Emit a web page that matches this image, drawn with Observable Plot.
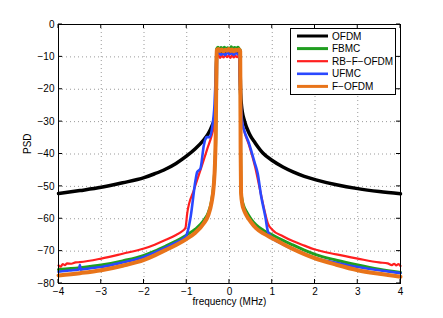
<!DOCTYPE html>
<html><head><meta charset="utf-8">
<script src="https://cdn.jsdelivr.net/npm/d3@7"></script>
<script src="https://cdn.jsdelivr.net/npm/@observablehq/plot@0.6"></script>
<style>body{margin:0;background:#fff}svg{display:block}</style>
</head><body><div id="chart"></div>
<script>
// ---- data ----
const seriesNames = ["OFDM", "FBMC", "RB\u2212F\u2212OFDM", "UFMC", "F\u2212OFDM"];
const xTicks = [-4, -3, -2, -1, 0, 1, 2, 3, 4];
const yTicks = [0, -10, -20, -30, -40, -50, -60, -70, -80];

const ofdmF   = [-4,-3.5,-3,-2.5,-2,-1.75,-1.5,-1.25,-1,-0.8,-0.6,-0.5,-0.4,-0.35,-0.32,-0.31,-0.3,-0.25,-0.15,0,0.1,0.2,0.24,0.25,0.26,0.28,0.3,0.35,0.47,0.6,0.78,1,1.25,1.5,1.75,2,2.5,3,3.5,4];
const ofdmPSD = [-52.2,-51.3,-50.3,-48.9,-47.3,-46.1,-44.7,-42.9,-40.6,-38.4,-35.6,-33.8,-31,-29,-26,-20,-8.5,-8.2,-8.4,-8.3,-8.5,-8.3,-8.5,-15,-21,-25,-27,-29.8,-33.9,-36.6,-39.7,-42,-44,-45.6,-46.9,-47.9,-49.5,-50.7,-51.6,-52.3];

const fbmcF   = [-4,-3.5,-3,-2.5,-2,-1.75,-1.5,-1.25,-1,-0.8,-0.6,-0.5,-0.42,-0.37,-0.34,-0.32,-0.31,-0.3,-0.27,-0.24,-0.2,-0.16,-0.12,-0.08,-0.04,0,0.04,0.08,0.12,0.16,0.2,0.23,0.25,0.255,0.26,0.27,0.3,0.33,0.39,0.5,0.62,0.8,1,1.25,1.48,1.75,2,2.5,3,3.5,4];
const fbmcPSD = [-75.7,-75.1,-74.3,-73.0,-71.3,-70.0,-68.5,-66.9,-65.0,-63.2,-60.5,-58.2,-54.5,-49.5,-43,-33,-20,-7.5,-7.0,-7.8,-7.1,-7.6,-7.0,-7.7,-7.2,-7.8,-6.9,-7.6,-7.1,-7.5,-7.0,-7.6,-7.9,-20,-38,-51.5,-54.5,-56,-57.7,-60,-61.9,-63.6,-65,-66.7,-68.1,-69.7,-71,-72.8,-74.3,-75.6,-76.6];

const rbfF   = [-4,-3.95,-3.9,-3.85,-3.8,-3.7,-3.6,-3.5,-3,-2.5,-2,-1.75,-1.5,-1.25,-1.1,-1.03,-0.99,-0.835,-0.68,-0.52,-0.405,-0.35,-0.33,-0.31,-0.295,-0.26,-0.22,-0.18,-0.14,-0.1,-0.06,-0.02,0.02,0.06,0.1,0.14,0.18,0.21,0.23,0.245,0.27,0.3,0.35,0.45,0.6,0.72,0.82,0.9,1,1.25,1.48,1.75,2,2.5,3,3.5,3.7,3.8,3.85,3.9,3.95,4];
const rbfPSD = [-74.4,-74.8,-74.0,-74.3,-73.8,-73.9,-73.5,-73.4,-72.3,-70.8,-69.2,-68.0,-66.6,-65.0,-63.8,-62.8,-58.4,-51.2,-45,-38.4,-33.7,-30,-25.5,-15,-10,-9.5,-10.3,-9.6,-10.2,-9.4,-10.1,-9.6,-10.3,-9.5,-10.2,-9.7,-10.1,-9.6,-10,-18,-27,-30.5,-33.2,-37,-44,-51.5,-57.5,-61.5,-63.4,-65.4,-66.9,-68.3,-69.5,-71,-72.3,-73.5,-73.8,-74.3,-73.9,-74.4,-74.0,-74.6];

const ufmcF   = [-4,-3.75,-3.52,-3.5,-3.48,-3.25,-3,-2.5,-2,-1.75,-1.5,-1.25,-1.03,-0.97,-0.91,-0.795,-0.756,-0.68,-0.6,-0.54,-0.46,-0.405,-0.35,-0.32,-0.3,-0.25,-0.2,-0.15,-0.1,-0.05,0,0.05,0.1,0.15,0.2,0.23,0.25,0.28,0.31,0.35,0.45,0.585,0.66,0.74,0.84,0.9,1,1.25,1.48,1.75,2,2.5,3,3.5,4];
const ufmcPSD = [-76.4,-76.0,-75.7,-74.3,-75.7,-75.3,-74.9,-73.5,-71.8,-70.4,-68.9,-67.3,-65.6,-63.5,-59.5,-48.1,-45.6,-44.5,-37.3,-34.8,-34.8,-31.7,-24.5,-15,-9.2,-8.8,-9.3,-8.9,-9.4,-8.7,-9.2,-8.9,-9.3,-8.8,-9.2,-9.0,-20,-28,-31,-33,-36.5,-42.5,-46,-53,-59.5,-64,-65.8,-67.9,-69.4,-70.8,-72.1,-73.6,-74.9,-75.9,-76.8];

const fofdmF   = [-4,-3.5,-3,-2.5,-2,-1.75,-1.5,-1.25,-1,-0.8,-0.6,-0.5,-0.42,-0.37,-0.34,-0.32,-0.31,-0.3,-0.26,-0.22,-0.18,-0.14,-0.1,-0.06,-0.02,0.02,0.06,0.1,0.14,0.18,0.22,0.25,0.255,0.26,0.27,0.3,0.33,0.39,0.5,0.62,0.8,1,1.25,1.48,1.75,2,2.5,3,3.5,4];
const fofdmPSD = [-77.5,-76.8,-75.9,-74.5,-72.7,-71.3,-69.7,-68.1,-66.2,-64.3,-61.4,-59,-55,-50,-43,-32,-18,-8,-7.6,-8.2,-7.7,-8.3,-7.8,-8.1,-7.6,-8.2,-7.7,-8.3,-7.8,-8.0,-7.7,-8.3,-20,-38,-52,-55.5,-57,-58.8,-61,-62.9,-64.6,-66,-67.8,-69.3,-70.9,-72.2,-74.2,-75.9,-77,-77.9];

// ---- styles ----
const seriesColors = ["#000000", "#1f9e1f", "#ff1f1f", "#2a48ff", "#e8741a"];
const seriesWidths = [3.5, 3, 2.2, 2.6, 4];

const seriesF = [ofdmF, fbmcF, rbfF, ufmcF, fofdmF];
const seriesP = [ofdmPSD, fbmcPSD, rbfPSD, ufmcPSD, fofdmPSD];
const rows = seriesNames.map((name, k) => seriesF[k].map((f, i) => ({f, p: seriesP[k][i], name})));

const W = 443, H = 318;
const plot = Plot.plot({
  width: W, height: H,
  marginLeft: 58, marginRight: 43, marginTop: 24, marginBottom: 35,
  x: {domain: [-4, 4]},
  y: {domain: [-80, 0]},
  style: {fontFamily: "'Liberation Sans', Arial, sans-serif", fontSize: "10px", background: "#fff", color: "#000"},
  marks: [
    Plot.gridX(xTicks, {stroke: "#9a9a9a", strokeOpacity: 1, strokeDasharray: "1,3"}),
    Plot.gridY(yTicks, {stroke: "#9a9a9a", strokeOpacity: 1, strokeDasharray: "1,3"}),
    ...rows.map((r, k) => Plot.line(r, {x: "f", y: "p", stroke: seriesColors[k], strokeWidth: seriesWidths[k], curve: "monotone-x", strokeLinejoin: "round"})),
    Plot.frame({stroke: "#000", strokeWidth: 1}),
    Plot.axisX(xTicks, {anchor: "bottom", tickSize: 0, tickPadding: 4, label: null}),
    Plot.axisY(yTicks, {anchor: "left", tickSize: 0, tickPadding: 4, label: null}),
    Plot.text(["frequency (MHz)"], {frameAnchor: "bottom", dy: 21, text: d => d}),
    Plot.text(["PSD"], {frameAnchor: "left", dx: -31, rotate: -90, text: d => d})
  ]
});
document.getElementById("chart").appendChild(plot);

// inward ticks on all four sides, positioned through Plot's scales
const sx = plot.scale("x"), sy = plot.scale("y");
const svg = d3.select(plot);
const x0 = sx.apply(-4), x1 = sx.apply(4), y0 = sy.apply(-80), y1 = sy.apply(0);
const tl = 4;
const tg = svg.append("g").attr("stroke", "#000").attr("stroke-width", 1);
xTicks.forEach(v => {
  const x = sx.apply(v);
  tg.append("line").attr("x1", x).attr("x2", x).attr("y1", y0).attr("y2", y0 - tl);
  tg.append("line").attr("x1", x).attr("x2", x).attr("y1", y1).attr("y2", y1 + tl);
});
yTicks.forEach(v => {
  const y = sy.apply(v);
  tg.append("line").attr("x1", x0).attr("x2", x0 + tl).attr("y1", y).attr("y2", y);
  tg.append("line").attr("x1", x1).attr("x2", x1 - tl).attr("y1", y).attr("y2", y);
});

// legend (inside the axes, top right)
const lg = svg.append("g").attr("font-family", "'Liberation Sans', Arial, sans-serif").attr("font-size", 10).attr("text-anchor", "start");
const bx = 290.5, by = 28.5, bw = 105, bh = 66;
lg.append("rect").attr("x", bx).attr("y", by).attr("width", bw).attr("height", bh).attr("fill", "#fff").attr("stroke", "#000").attr("stroke-width", 1);
seriesNames.forEach((name, k) => {
  const y = by + 7.5 + k * 12.6;
  lg.append("line").attr("x1", bx + 6.5).attr("x2", bx + 37.5).attr("y1", y).attr("y2", y)
    .attr("stroke", seriesColors[k]).attr("stroke-width", Math.min(seriesWidths[k], 3));
  lg.append("text").attr("x", bx + 41.5).attr("y", y).attr("dy", "0.35em").attr("text-anchor", "start").attr("fill", "#000").text(name);
});
</script>
</body></html>
